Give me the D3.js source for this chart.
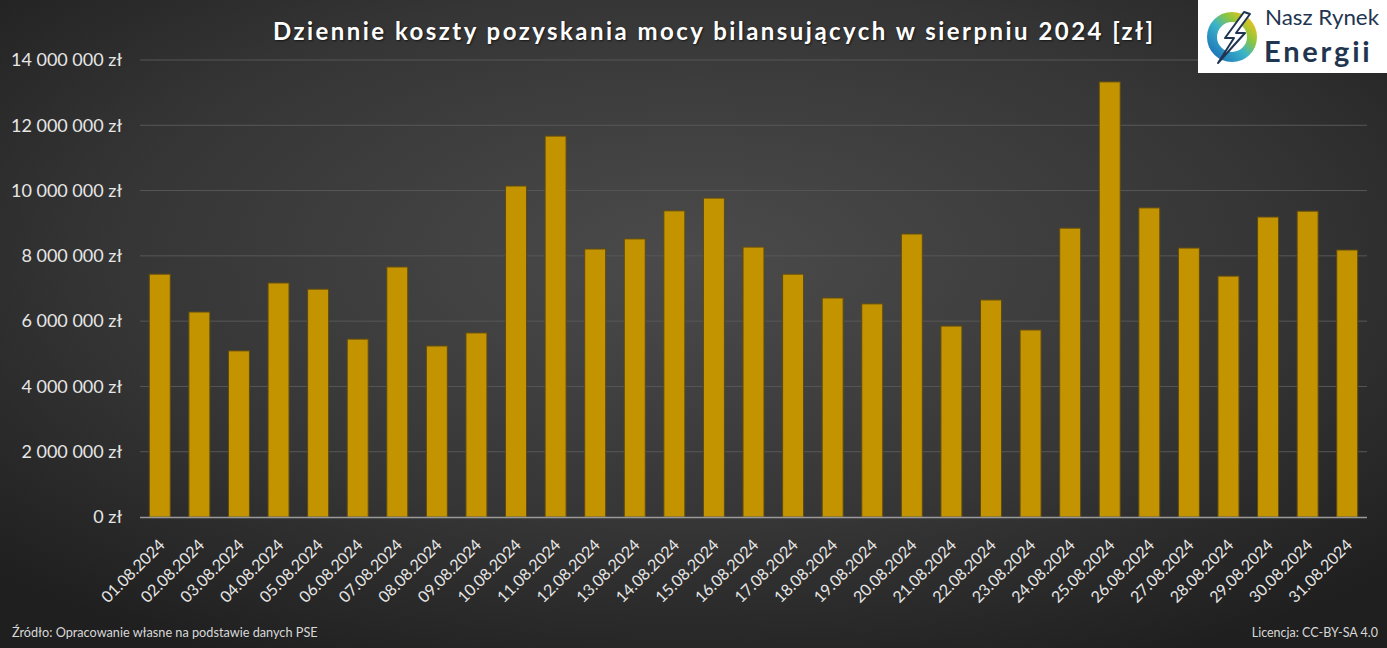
<!DOCTYPE html>
<html>
<head>
<meta charset="utf-8">
<script src="https://cdn.jsdelivr.net/npm/d3@7"></script>
<style>
  html, body { margin: 0; padding: 0; background: #262626; }
  svg { display: block; }
</style>
</head>
<body>
<div id="chart"></div>
<script>
// Data
const days = ['01.08.2024','02.08.2024','03.08.2024','04.08.2024','05.08.2024','06.08.2024','07.08.2024','08.08.2024','09.08.2024','10.08.2024','11.08.2024','12.08.2024','13.08.2024','14.08.2024','15.08.2024','16.08.2024','17.08.2024','18.08.2024','19.08.2024','20.08.2024','21.08.2024','22.08.2024','23.08.2024','24.08.2024','25.08.2024','26.08.2024','27.08.2024','28.08.2024','29.08.2024','30.08.2024','31.08.2024'];
const costs = [7440000, 6280000, 5090000, 7170000, 6980000, 5450000, 7660000, 5240000, 5640000, 10140000, 11670000, 8210000, 8520000, 9380000, 9770000, 8270000, 7440000, 6710000, 6530000, 8670000, 5850000, 6650000, 5730000, 8850000, 13330000, 9470000, 8240000, 7380000, 9190000, 9370000, 8180000];
const yTicks = [0, 2000000, 4000000, 6000000, 8000000, 10000000, 12000000, 14000000];

const title = 'Dziennie koszty pozyskania mocy bilansujących w sierpniu 2024 [zł]';
const sourceText = 'Źródło: Opracowanie własne na podstawie danych PSE';
const licenseText = 'Licencja: CC-BY-SA 4.0';

const width = 1387, height = 648;
const margin = { top: 60, right: 20, bottom: 131, left: 140 };
const font = 'Lato, "Open Sans", sans-serif';

const svg = d3.select('#chart').append('svg')
  .attr('width', width)
  .attr('height', height);

const defs = svg.append('defs');
const bg = defs.append('radialGradient')
  .attr('id', 'bg-grad')
  .attr('cx', '50%').attr('cy', '40%').attr('r', '70%');
bg.append('stop').attr('offset', '0%').attr('stop-color', '#4b4b4b');
bg.append('stop').attr('offset', '60%').attr('stop-color', '#353535');
bg.append('stop').attr('offset', '100%').attr('stop-color', '#1f1f1f');

svg.append('rect')
  .attr('width', width).attr('height', height)
  .attr('fill', 'url(#bg-grad)');

const x = d3.scaleBand()
  .domain(days)
  .range([margin.left, width - margin.right])
  .paddingInner(0.47)
  .paddingOuter(0.235);

const y = d3.scaleLinear()
  .domain([0, 14000000])
  .range([height - margin.bottom, margin.top]);

const fmt = v => d3.format(',')(v).replace(/,/g, ' ') + ' zł';

// Gridlines
svg.append('g')
  .selectAll('line')
  .data(yTicks.slice(1))
  .join('line')
  .attr('x1', margin.left).attr('x2', width - margin.right)
  .attr('y1', d => y(d)).attr('y2', d => y(d))
  .attr('stroke', '#575757')
  .attr('stroke-width', 1);

// Y axis labels
const yAxis = svg.append('g')
  .attr('transform', `translate(${margin.left - 18},0)`)
  .call(d3.axisLeft(y).tickValues(yTicks).tickFormat(fmt).tickSize(0).tickPadding(0));
yAxis.select('.domain').remove();
yAxis.selectAll('text')
  .attr('fill', '#e6e6e6')
  .attr('font-family', font)
  .attr('font-size', 18);

// Bars
svg.append('g')
  .selectAll('rect')
  .data(costs)
  .join('rect')
  .attr('x', (d, i) => x(days[i]))
  .attr('y', d => y(d))
  .attr('width', x.bandwidth())
  .attr('height', d => y(0) - y(d))
  .attr('fill', '#c39300')
  .attr('stroke', '#5e4a14')
  .attr('stroke-width', 1);

// Baseline
svg.append('line')
  .attr('x1', margin.left).attr('x2', width - margin.right)
  .attr('y1', y(0) + 0.5).attr('y2', y(0) + 0.5)
  .attr('stroke', '#9a9a9a')
  .attr('stroke-width', 1.5);

// X axis labels
const xAxis = svg.append('g')
  .attr('transform', `translate(0,${y(0)})`)
  .call(d3.axisBottom(x).tickSize(0));
xAxis.select('.domain').remove();
xAxis.selectAll('text')
  .attr('fill', '#e6e6e6')
  .attr('font-family', font)
  .attr('font-size', 16)
  .attr('text-anchor', 'end')
  .attr('dy', null)
  .attr('y', 0)
  .attr('transform', 'translate(6,29) rotate(-45)');

// Title
svg.append('text')
  .attr('x', 713).attr('y', 40)
  .attr('text-anchor', 'middle')
  .attr('fill', '#ffffff')
  .attr('font-family', font)
  .attr('font-weight', 'bold')
  .attr('font-size', 24)
  .attr('textLength', 880)
  .attr('lengthAdjust', 'spacing')
  .style('text-shadow', '1px 1px 2px rgba(0,0,0,0.6)')
  .text(title);

// Footer
svg.append('text')
  .attr('x', 12).attr('y', 637)
  .attr('fill', '#d8d8d8')
  .attr('font-family', font)
  .attr('font-size', 12.7)
  .text(sourceText);
svg.append('text')
  .attr('x', 1378).attr('y', 637)
  .attr('text-anchor', 'end')
  .attr('fill', '#d8d8d8')
  .attr('font-family', font)
  .attr('font-size', 12.5)
  .text(licenseText);

// Logo box
const logo = svg.append('g').attr('transform', 'translate(1198,0)');
logo.append('rect')
  .attr('width', 189).attr('height', 73)
  .attr('fill', '#ffffff');
const lg = defs.append('linearGradient').attr('id', 'logo-grad')
  .attr('x1', '0%').attr('y1', '100%').attr('x2', '100%').attr('y2', '0%');
lg.append('stop').attr('offset', '0%').attr('stop-color', '#1d6fb8');
lg.append('stop').attr('offset', '45%').attr('stop-color', '#3bb4c9');
lg.append('stop').attr('offset', '70%').attr('stop-color', '#8cc63f');
lg.append('stop').attr('offset', '100%').attr('stop-color', '#f7c21b');
logo.append('circle')
  .attr('cx', 34).attr('cy', 37).attr('r', 20)
  .attr('fill', 'none')
  .attr('stroke', 'url(#logo-grad)')
  .attr('stroke-width', 10);
logo.append('path')
  .attr('d', 'M46,12 L27,38 L36,38 L20,63 L47,33 L38,33 L52,14 Z')
  .attr('fill', '#ffffff')
  .attr('stroke', '#1f3550')
  .attr('stroke-width', 2)
  .attr('stroke-linejoin', 'round');
logo.append('text')
  .attr('x', 67).attr('y', 25)
  .attr('fill', '#1f3550')
  .attr('font-family', font)
  .attr('font-size', 21)
  .attr('textLength', 114)
  .attr('lengthAdjust', 'spacingAndGlyphs')
  .text('Nasz Rynek');
logo.append('text')
  .attr('x', 66).attr('y', 62)
  .attr('fill', '#1f3550')
  .attr('font-family', font)
  .attr('font-weight', 'bold')
  .attr('font-size', 29)
  .attr('letter-spacing', 2.8)
  .text('Energii');
</script>
</body>
</html>
